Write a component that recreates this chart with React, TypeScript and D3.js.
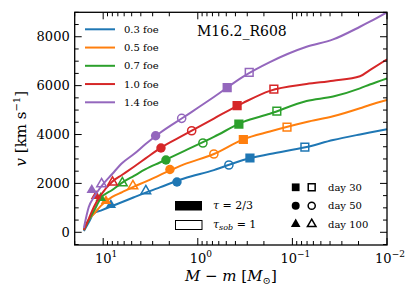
import React, { useEffect, useRef } from "react";
import * as d3 from "d3";

// mass coordinate grid (M - m, in Msun) shared by all curves
const massGrid = [16.0, 14.2, 12.5, 10.6, 8.03, 6.29, 4.73, 3.56, 2.52, 1.4, 0.676, 0.331, 0.173, 0.0708, 0.0371, 0.0193, 0.0152, 0.01];

const labels = ["0.3 foe", "0.5 foe", "0.7 foe", "1.0 foe", "1.4 foe"];
const colors = ["#1f77b4", "#ff7f0e", "#2ca02c", "#d62728", "#9467bd"];

const v03 = [53, 409, 777, 888, 1076, 1239, 1432, 1620, 1836, 2200, 2544, 2957, 3202, 3489, 3775, 4004, 4082, 4213];
const v05 = [94, 515, 757, 1080, 1448, 1644, 1869, 2070, 2339, 2777, 3202, 3804, 4123, 4511, 4744, 5072, 5207, 5411];
const v07 = [94, 503, 879, 1391, 1730, 2029, 2307, 2581, 2855, 3321, 3902, 4515, 4851, 5374, 5554, 5890, 6045, 6299];
const v10 = [94, 552, 1047, 1520, 2070, 2352, 2683, 3023, 3436, 3984, 4654, 5297, 5787, 6065, 6200, 6384, 6638, 7076];
const v14 = [176, 1035, 1444, 1853, 2384, 2834, 3202, 3611, 4061, 4716, 5534, 6372, 6965, 7591, 7890, 8409, 8614, 9000];
const velocities = [v03, v05, v07, v10, v14];

// markers: [M - m, v] for each energy (0.3 ... 1.4 foe)
const day30Photo = [[0.281, 3039], [0.33, 3796], [0.368, 4429], [0.384, 5178], [0.489, 5914]];
const day30Sob = [[0.0738, 3489], [0.114, 4307], [0.146, 4961], [0.157, 5861], [0.286, 6544]];
const day50Photo = [[1.66, 2057], [1.97, 2568], [2.17, 2957], [2.45, 3448], [2.79, 3951]];
const day50Sob = [[0.469, 2753], [0.676, 3202], [0.883, 3652], [1.16, 4155], [1.48, 4663]];
const day100Photo = [[8.3, 1117], [9.35, 1280], [10.6, 1403], [11.9, 1485], [13.2, 1730]];
const day100Sob = [[3.54, 1689], [4.85, 1894], [6.27, 2016], [7.96, 2045], [10.4, 1975]];

const xMajor = [10, 1, 0.1, 0.01];
const xMajorExp = ["1", "0", "\u22121", "\u22122"];
const yMajor = [0, 2000, 4000, 6000, 8000];

const dayLabels = ["day 30", "day 50", "day 100"];

export default function App() {
  const svgRef = useRef<SVGSVGElement>(null);

  useEffect(() => {
    if (!svgRef.current) return;
    const svg = d3.select(svgRef.current);
    svg.selectAll("*").remove();

    const font = "DejaVu Serif";
    const left = 74.7, right = 387, top = 12.3, bottom = 245;

    const x = d3.scaleLog().domain([20, 0.01]).range([left, right]);
    const y = d3.scaleLinear().domain([-520, 9000]).range([bottom, top]);

    svg.append("defs").append("clipPath").attr("id", "plotclip")
      .append("rect").attr("x", left).attr("y", top).attr("width", right - left).attr("height", bottom - top);

    const plot = svg.append("g").attr("clip-path", "url(#plotclip)");

    const line = d3.line<number>()
      .x((_, i) => x(massGrid[i]))
      .y((d) => y(d))
      .curve(d3.curveMonotoneX);

    const sqF = d3.symbol().type(d3.symbolSquare).size(85)();
    const ciF = d3.symbol().type(d3.symbolCircle).size(70)();
    const trF = d3.symbol().type(d3.symbolTriangle).size(48)();
    const sqO = d3.symbol().type(d3.symbolSquare).size(60)();
    const ciO = d3.symbol().type(d3.symbolCircle).size(52)();
    const trO = d3.symbol().type(d3.symbolTriangle).size(40)();

    const markerSets = [
      { pts: day30Photo, path: sqF, filled: true },
      { pts: day30Sob, path: sqO, filled: false },
      { pts: day50Photo, path: ciF, filled: true },
      { pts: day50Sob, path: ciO, filled: false },
      { pts: day100Photo, path: trF, filled: true },
      { pts: day100Sob, path: trO, filled: false },
    ];

    velocities.forEach((vs, i) => {
      plot.append("path")
        .attr("d", line(vs))
        .attr("fill", "none")
        .attr("stroke", colors[i])
        .attr("stroke-width", 2);
      markerSets.forEach((ms) => {
        const [m, v] = ms.pts[i];
        plot.append("path")
          .attr("d", ms.path)
          .attr("transform", `translate(${x(m)},${y(v)})`)
          .attr("fill", ms.filled ? colors[i] : "none")
          .attr("stroke", colors[i])
          .attr("stroke-width", ms.filled ? 0 : 1.5);
      });
    });

    // frame
    svg.append("rect")
      .attr("x", left).attr("y", top).attr("width", right - left).attr("height", bottom - top)
      .attr("fill", "none").attr("stroke", "black").attr("stroke-width", 1.3);

    // ticks
    const ticks = svg.append("g").attr("stroke", "black").attr("stroke-width", 1);
    x.ticks().forEach((t) => {
      const isMajor = Math.abs(Math.log10(t) - Math.round(Math.log10(t))) < 1e-9;
      const len = isMajor ? 7 : 4;
      const px = x(t);
      if (px < left - 0.1 || px > right + 0.1) return;
      ticks.append("line").attr("x1", px).attr("x2", px).attr("y1", bottom).attr("y2", bottom - len);
      ticks.append("line").attr("x1", px).attr("x2", px).attr("y1", top).attr("y2", top + len);
    });
    d3.range(-500, 9001, 500).forEach((t) => {
      const isMajor = t % 2000 === 0;
      const len = isMajor ? 7 : 4;
      const py = y(t);
      ticks.append("line").attr("x1", left).attr("x2", left + len).attr("y1", py).attr("y2", py);
      ticks.append("line").attr("x1", right).attr("x2", right - len).attr("y1", py).attr("y2", py);
    });

    // tick labels
    yMajor.forEach((t) => {
      svg.append("text")
        .attr("x", left - 5).attr("y", y(t)).attr("dy", "0.36em")
        .attr("text-anchor", "end").attr("font-family", font).attr("font-size", 13)
        .text(t);
    });
    xMajor.forEach((t, i) => {
      const tx = svg.append("text")
        .attr("x", x(t) + 3).attr("y", 263)
        .attr("text-anchor", "middle").attr("font-family", font).attr("font-size", 13);
      tx.append("tspan").text("10");
      tx.append("tspan").attr("dy", -6).attr("font-size", 9).text(xMajorExp[i]);
    });

    // axis labels
    const xl = svg.append("text")
      .attr("x", (left + right) / 2).attr("y", 281)
      .attr("text-anchor", "middle").attr("font-family", font).attr("font-size", 15);
    xl.append("tspan").attr("font-style", "italic").text("M");
    xl.append("tspan").text(" \u2212 ");
    xl.append("tspan").attr("font-style", "italic").text("m");
    xl.append("tspan").text(" [");
    xl.append("tspan").attr("font-style", "italic").text("M");
    xl.append("tspan").attr("dy", 3).attr("font-size", 10).text("\u2299");
    xl.append("tspan").attr("dy", -3).text("]");

    const yl = svg.append("text")
      .attr("transform", `translate(26,${(top + bottom) / 2}) rotate(-90)`)
      .attr("text-anchor", "middle").attr("font-family", font).attr("font-size", 15);
    yl.append("tspan").attr("font-style", "italic").text("v");
    yl.append("tspan").text(" [km s");
    yl.append("tspan").attr("dy", -6).attr("font-size", 10).text("\u22121");
    yl.append("tspan").attr("dy", 6).text("]");

    // title
    svg.append("text")
      .attr("x", 197).attr("y", 36)
      .attr("font-family", font).attr("font-size", 14)
      .text("M16.2_R608");

    // energy legend
    labels.forEach((lab, i) => {
      const ly = 29.3 + i * 18.25;
      svg.append("line").attr("x1", 85).attr("x2", 115).attr("y1", ly).attr("y2", ly)
        .attr("stroke", colors[i]).attr("stroke-width", 2);
      svg.append("text").attr("x", 124).attr("y", ly).attr("dy", "0.36em")
        .attr("font-family", font).attr("font-size", 10).text(lab);
    });

    // tau legend
    svg.append("rect").attr("x", 175).attr("y", 201).attr("width", 27).attr("height", 9.5).attr("fill", "black");
    svg.append("rect").attr("x", 175.5).attr("y", 220.5).attr("width", 26.5).attr("height", 9).attr("fill", "white")
      .attr("stroke", "black").attr("stroke-width", 1);
    const t1 = svg.append("text").attr("x", 213).attr("y", 209).attr("font-family", font).attr("font-size", 11);
    t1.append("tspan").attr("font-style", "italic").text("\u03c4");
    t1.append("tspan").text(" = 2/3");
    const t2 = svg.append("text").attr("x", 213).attr("y", 228).attr("font-family", font).attr("font-size", 11);
    t2.append("tspan").attr("font-style", "italic").text("\u03c4");
    t2.append("tspan").attr("font-style", "italic").attr("font-size", 8).attr("dy", 2).text("sob");
    t2.append("tspan").attr("dy", -2).text(" = 1");

    // day legend
    const legF = [d3.symbolSquare, d3.symbolCircle, d3.symbolTriangle];
    const legSize = [60, 50, 40];
    dayLabels.forEach((lab, i) => {
      const ly = 187.3 + i * 18.4;
      const p = d3.symbol().type(legF[i]).size(legSize[i])();
      svg.append("path").attr("d", p).attr("transform", `translate(295.7,${ly})`).attr("fill", "black");
      svg.append("path").attr("d", d3.symbol().type(legF[i]).size(legSize[i] * 0.8)())
        .attr("transform", `translate(311.7,${ly})`)
        .attr("fill", "none").attr("stroke", "black").attr("stroke-width", 1.5);
      svg.append("text").attr("x", 328).attr("y", ly).attr("dy", "0.36em")
        .attr("font-family", font).attr("font-size", 10).text(lab);
    });
  }, []);

  return (
    <svg
      ref={svgRef}
      width={416}
      height={300}
      viewBox="0 0 416 300"
      style={{ position: "absolute", left: 0, top: 0, background: "white" }}
    />
  );
}
